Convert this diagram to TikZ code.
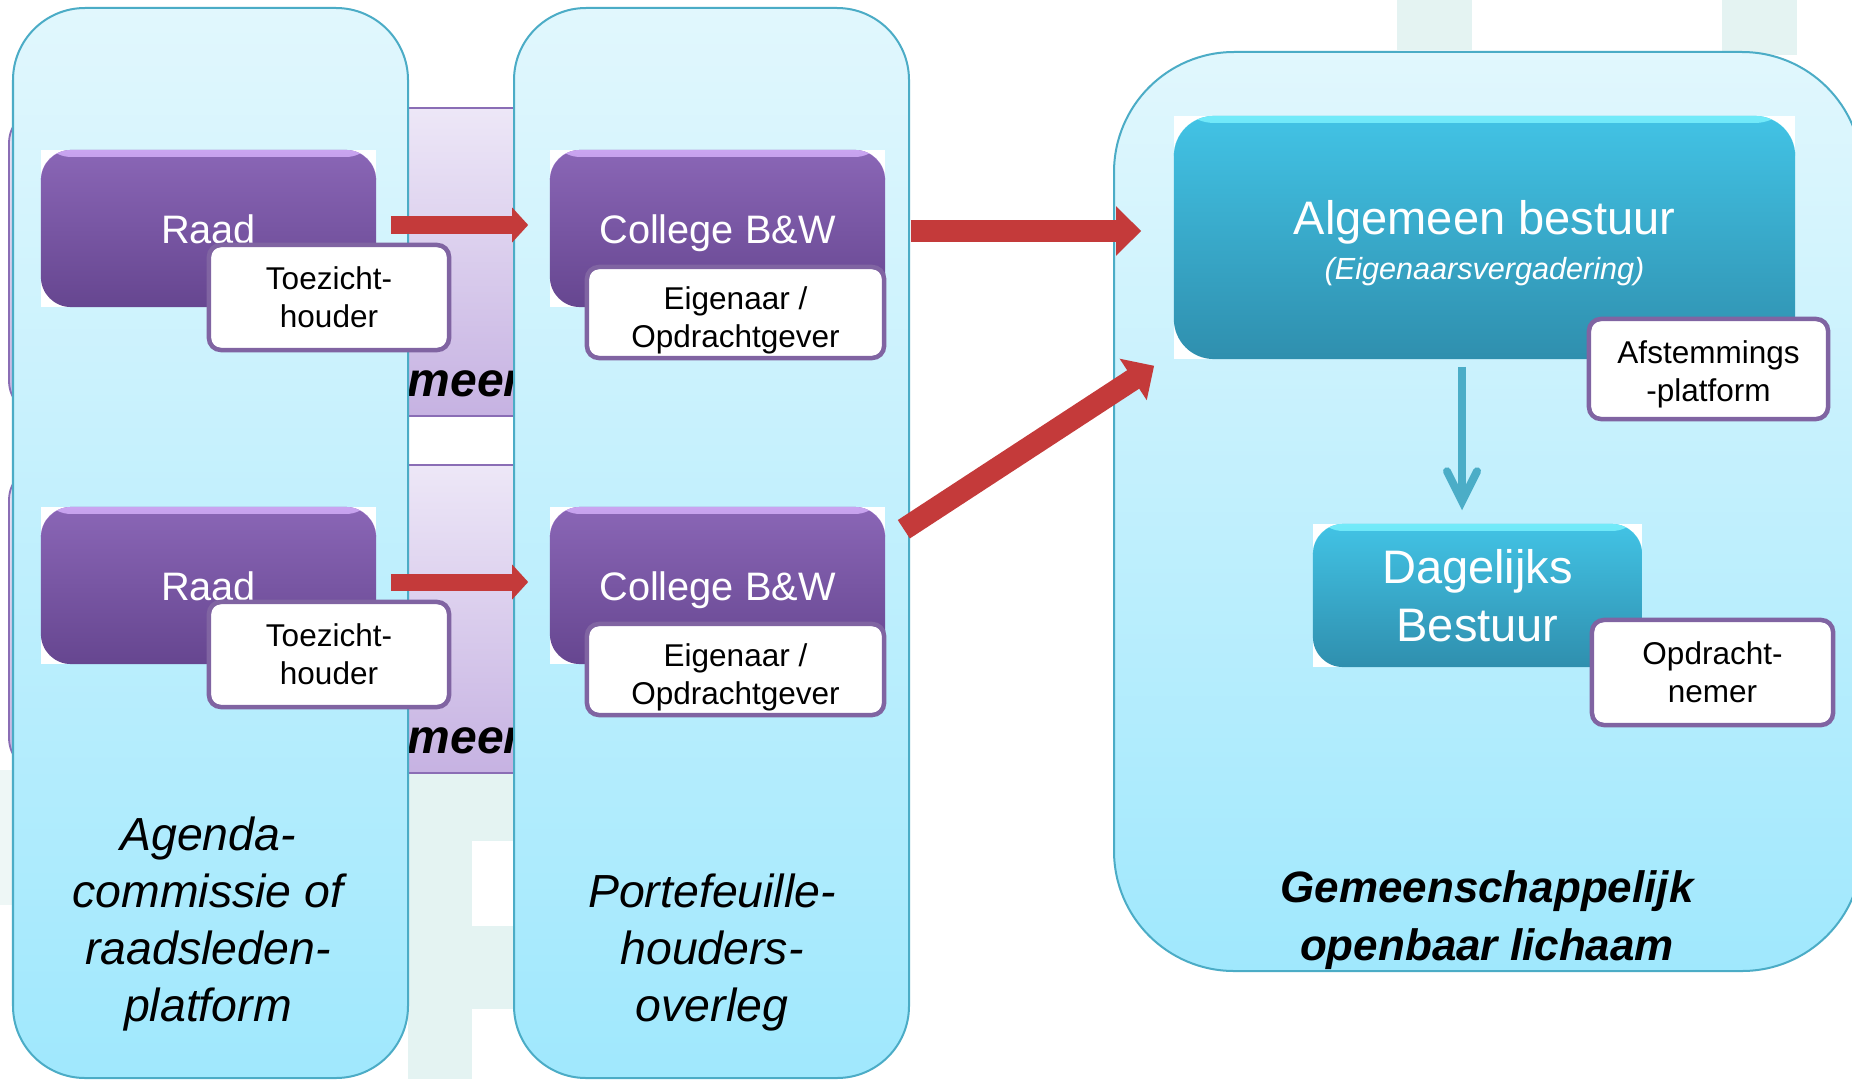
\documentclass[tikz,border=0pt]{standalone}
\usepackage{fontspec}
\setmainfont{Liberation Sans}
\usetikzlibrary{calc,arrows.meta}
\definecolor{PanelTop}{HTML}{E1F7FD}
\definecolor{PanelBottom}{HTML}{A0E8FD}
\definecolor{PanelLine}{HTML}{4BACC6}
\definecolor{BandTop}{HTML}{EDE7F7}
\definecolor{BandBottom}{HTML}{C6B2E2}
\definecolor{BandLine}{HTML}{8A6DB5}
\definecolor{PurpleTop}{HTML}{8A66B6}
\definecolor{PurpleBottom}{HTML}{664690}
\definecolor{PurpleHi}{HTML}{C9A4F0}
\definecolor{BlueTop}{HTML}{42C3E5}
\definecolor{BlueBottom}{HTML}{2F8FAE}
\definecolor{BlueHi}{HTML}{72EAF9}
\definecolor{TagLine}{HTML}{8064A2}
\definecolor{ArrowRed}{HTML}{C43A3A}
\definecolor{ArrowBlue}{HTML}{4BADC7}
\definecolor{Logo}{HTML}{E4F3F2}
\definecolor{LogoFaint}{HTML}{EEF7F6}

\newcommand{\fTitle}{\fontsize{11.3}{13.6}\selectfont}
\newcommand{\fTag}{\fontsize{8.96}{10.8}\selectfont}
\newcommand{\fBig}{\fontsize{13.37}{16.5}\selectfont}
\newcommand{\fSub}{\fontsize{8.7}{10.4}\selectfont}
\newcommand{\fCaption}{\fontsize{13.2}{16.2}\selectfont\itshape}
\newcommand{\fBold}{\fontsize{12.5}{16.5}\selectfont\bfseries\itshape}

\begin{document}
\begin{tikzpicture}[
    x=0.01cm, y=-0.01cm,
    panel/.style={draw=PanelLine, line width=0.02cm, top color=PanelTop, bottom color=PanelBottom},
    band/.style={draw=BandLine, line width=0.018cm, top color=BandTop, bottom color=BandBottom, rounded corners=0.35cm},
    bandtext/.style={anchor=base west, inner sep=0pt, font=\fontsize{13.66}{16}\selectfont\bfseries\itshape},
    backdrop/.style={fill=white, inner sep=0pt},
    purplebox/.style={rounded corners=0.3cm, top color=PurpleTop, bottom color=PurpleBottom,
        text=white, inner sep=0pt, font=\fTitle, text height=0.29cm, text depth=0cm,
        minimum width=3.35cm, minimum height=1.57cm,
        path picture={\shade[top color=PurpleHi, bottom color=PurpleTop] (path picture bounding box.north west) rectangle ([yshift=-0.07cm]path picture bounding box.north east);}},
    bluebox/.style={rounded corners=0.4cm, top color=BlueTop, bottom color=BlueBottom,
        text=white, inner sep=0pt, align=center,
        path picture={\shade[top color=BlueHi, bottom color=BlueTop] (path picture bounding box.north west) rectangle ([yshift=-0.07cm]path picture bounding box.north east);}},
    tagbox/.style={draw=TagLine, line width=0.045cm, fill=white, rounded corners=0.12cm,
        align=center, inner sep=0pt, font=\fTag},
    tagtext/.style={align=center, inner sep=0pt, font=\fTag},
    caption/.style={align=center, inner sep=0pt, font=\fCaption},
    redarrow/.style={draw=ArrowRed, line width=0.17cm, -{Triangle[length=0.16cm, width=0.34cm]}},
    bigarrow/.style={draw=ArrowRed, line width=0.22cm, -{Triangle[length=0.25cm, width=0.48cm]}},
    bluearrow/.style={draw=ArrowBlue, line width=0.08cm, -{Straight Barb[length=0.3cm, width=0.3cm, line cap=round]}}
 ]
\def\rowShift{357}

\useasboundingbox (0,0) rectangle (1852,1079);
\fill[white] (0,0) rectangle (1852,1079);

% faint logo in the background
\fill[Logo] (408,772) rectangle (514,1079);
\fill[white] (472,841) rectangle (514,926);
\fill[white] (472,1009) rectangle (514,1079);
\fill[Logo] (1397,0) rectangle (1472,50);
\fill[Logo] (1722,0) rectangle (1797,55);
\fill[LogoFaint] (0,770) rectangle (13,905);

    \foreach \dy in {0,\rowShift} {
        \draw[band] (9,108+\dy) rectangle (700,416+\dy);
    }
\node[bandtext] (meerA) at (407,396) {meer};
\node[bandtext] (meerB) at (407,396+\rowShift) {meer};

% panels
\draw[panel, rounded corners=0.72cm] (13,8) rectangle (408,1078);
\draw[panel, rounded corners=0.72cm] (514,8) rectangle (909,1078);
\draw[panel, rounded corners=1.2cm] (1114,52) rectangle (1862,971);

    \foreach \r/\dy in {A/0,B/\rowShift} {
        \node[backdrop, minimum width=3.35cm, minimum height=1.57cm] (raadbg\r) at (208.5,228.5+\dy) {};
        \node[purplebox] (raad\r) at (raadbg\r) {Raad};
        \node[tagbox, minimum width=2.40cm, minimum height=1.05cm] (toez\r) at (329,297.5+\dy) {Toezicht-\\houder};

        \node[backdrop, minimum width=3.35cm, minimum height=1.57cm] (collbg\r) at (717.5,228.5+\dy) {};
        \node[purplebox] (coll\r) at (collbg\r) {College B\&W};
        \node[tagbox, minimum width=2.97cm, minimum height=0.91cm] (eig\r) at (735.5,312.5+\dy) {};
        \node[tagtext] (eigT\r) at ($(eig\r)+(0,8)$) {Eigenaar /\\Opdrachtgever};

        \draw[redarrow] ($(raad\r.east)+(14,-3.5)$) -- ($(coll\r.west)+(-21,-3.5)$);
    }

\node[backdrop, minimum width=6.21cm, minimum height=2.43cm] (algbg) at (1484.5,237.5) {};
\node[bluebox, minimum width=6.21cm, minimum height=2.43cm] (alg) at (algbg) {};
\node[tagtext, text=white, font=\fontsize{13.37}{12.8}\selectfont] (algT) at ($(alg)+(0,6)$)
    {Algemeen bestuur\\{\fSub\itshape (Eigenaarsvergadering)}};
\node[tagbox, minimum width=2.39cm, minimum height=1.00cm] (afst) at (1708.5,369) {};
\node[tagtext] (afstT) at ($(afst)+(0,5)$) {Afstemmings\\-platform};

\node[backdrop, minimum width=3.29cm, minimum height=1.43cm] (dagbg) at (1477.5,595.5) {};
\node[bluebox, rounded corners=0.3cm, minimum width=3.29cm, minimum height=1.43cm, font=\fBig] (dag) at (dagbg)
    {Dagelijks\\Bestuur};
\node[tagbox, minimum width=2.41cm, minimum height=1.05cm] (opdr) at (1712.5,672.5) {Opdracht-\\nemer};

\draw[bigarrow] ($(collA.east)+(25,2.5)$) -- ($(collA.east -| alg.west)+(-32,2.5)$);
\draw[bigarrow] ($(collB.north east)+(18,23)$) -- ($(alg.south west)+(-19,6)$);
\draw[bluearrow] ($(alg.south)+(-22.5,7)$) -- ($(dag.north)+(-15.5,-13)$);

% captions
\node[caption] (agenda) at (208,924.4) {Agenda-\\commissie of\\raadsleden-\\platform};
\node[caption] (porte) at (712,952.9) {Portefeuille-\\houders-\\overleg};
\node[caption, font=\fBold] (golTitle) at (1487,920.6) {Gemeenschappelijk\\openbaar lichaam};

\end{tikzpicture}
\end{document}
